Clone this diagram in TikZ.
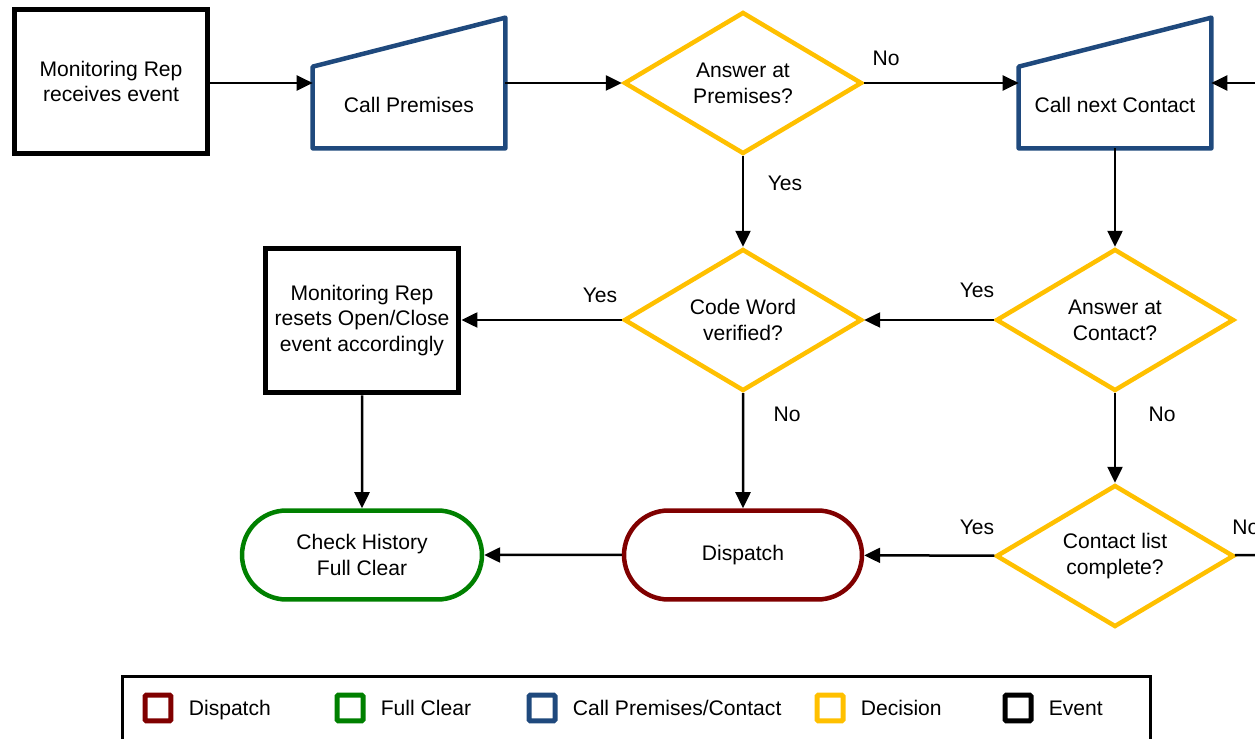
\documentclass[tikz,border=0pt]{standalone}
\usepackage{fontspec}
\setmainfont{Liberation Sans}
\usepackage{tikz}
\usetikzlibrary{arrows.meta,positioning,shapes.geometric,shapes.misc,calc}

\definecolor{dispred}{RGB}{128,0,0}
\definecolor{clrgreen}{RGB}{0,128,0}
\definecolor{callblue}{RGB}{31,73,125}
\definecolor{decgold}{RGB}{255,192,0}

\begin{document}
\begin{tikzpicture}[
  x=0.02cm, y=-0.02cm,
  every node/.style={font=\fontsize{12}{14.7}\selectfont, align=center},
  event/.style={draw=black, line width=0.1cm, minimum width=3.88cm,
    minimum height=2.9cm, inner sep=0pt},
  callbox/.style={minimum width=3.84cm, minimum height=1.62cm, inner sep=0pt},
  callline/.style={draw=callblue, line width=0.09cm, line join=round},
  decision/.style={diamond, draw=decgold, line width=0.09cm, aspect=1.68,
    minimum width=4.76cm, minimum height=2.84cm, inner sep=0pt},
  terminal/.style={rounded rectangle, line width=0.09cm,
    minimum width=4.76cm, minimum height=1.78cm, inner sep=0pt},
  flow/.style={-{Triangle[length=0.32cm,width=0.3cm]}, line width=0.05cm},
  lbl/.style={inner sep=0pt},
  legsq/.style={draw, line width=0.1cm, rounded corners=0.03cm,
    minimum size=0.52cm, inner sep=0pt},
]
  \useasboundingbox (0,0) rectangle (1255,739);

  % Top row
  \node[event] (ev) at (111,81.5) {Monitoring Rep\\receives event};
  \node[callbox] (cp) at (409,107.5) {\raisebox{0.1cm}{Call Premises}};
  \draw[callline] (cp.south west) -- (cp.north west)
    -- ([yshift=0.98cm]cp.north east) -- (cp.south east) -- cycle;
  \node[decision] (ap) at (743,83) {Answer at\\Premises?};
  \node[callbox] (cnc) at (1115,107.5) {\raisebox{0.1cm}{Call next Contact}};
  \draw[callline] (cnc.south west) -- (cnc.north west)
    -- ([yshift=0.98cm]cnc.north east) -- (cnc.south east) -- cycle;

  % Middle row
  \node[event] (rb) at (362,320.5)
    {Monitoring Rep\\resets Open/Close\\event accordingly};
  \node[decision] (cw) at (743,320) {Code Word\\verified?};
  \node[decision] (ac) at (1115,320) {Answer at\\Contact?};

  % Bottom row
  \node[terminal, draw=clrgreen, minimum width=4.8cm] (fc) at (362,555)
    {Check History\\Full Clear};
  \node[terminal, draw=dispred] (dp) at (743,555) {Dispatch};
  \node[decision] (cl) at (1115,556) {Contact list\\complete?};

  % Loose ends on the right
  \coordinate (rin) at (1262,83);
  \coordinate (rout) at (1262,555);

  % Connectors
  \draw[flow] (ev.east |- ap) -- (ap -| cp.west);
  \draw[flow] (cp.east |- ap) -- (ap);
  \draw[flow] (ap) -- (ap -| cnc.west);
  \draw[flow] (rin) -- (rin -| cnc.east);
  \draw[flow] (ap) -- (cw);
  \draw[flow] (cnc) -- (ac);
  \draw[flow] (ac) -- (cw);
  \draw[flow] (cw) -- (cw -| rb.east);
  \draw[flow] (cw) -- (dp);
  \draw[flow] (rb) -- (fc);
  \draw[flow] (ac) -- (cl);
  \draw[flow] (cl) -- (dp);
  \draw[flow] (dp) -- (fc);
  \draw[line width=0.05cm] (cl) -- (rout);

  % Branch labels
  \node[lbl] (no1) at (886,58) {No};
  \node[lbl] (yes1) at (785,183) {Yes};
  \node[lbl] (yes2) at (600,295) {Yes};
  \node[lbl] (yes3) at (977,290) {Yes};
  \node[lbl] (no2) at (787,414) {No};
  \node[lbl] (no3) at (1162,414) {No};
  \node[lbl] (yes4) at (977,527) {Yes};
  \node[lbl, anchor=west] (no4) at (1232,527) {No};

  % Legend
  \draw[line width=0.06cm] (122,677) rectangle (1150,780);
  \foreach \cx/\col/\txt [count=\i] in {158/dispred/Dispatch,
      350/clrgreen/Full Clear, 542/callblue/{Call Premises/Contact},
      830/decgold/Decision, 1018/black/Event} {
    \node[legsq, draw=\col] (sq\i) at (\cx,708) {};
    \node[anchor=base west, inner sep=0pt] (lt\i)
      at ([xshift=0.3cm]sq\i.east |- 0,716) {\txt};
  }
\end{tikzpicture}
\end{document}
